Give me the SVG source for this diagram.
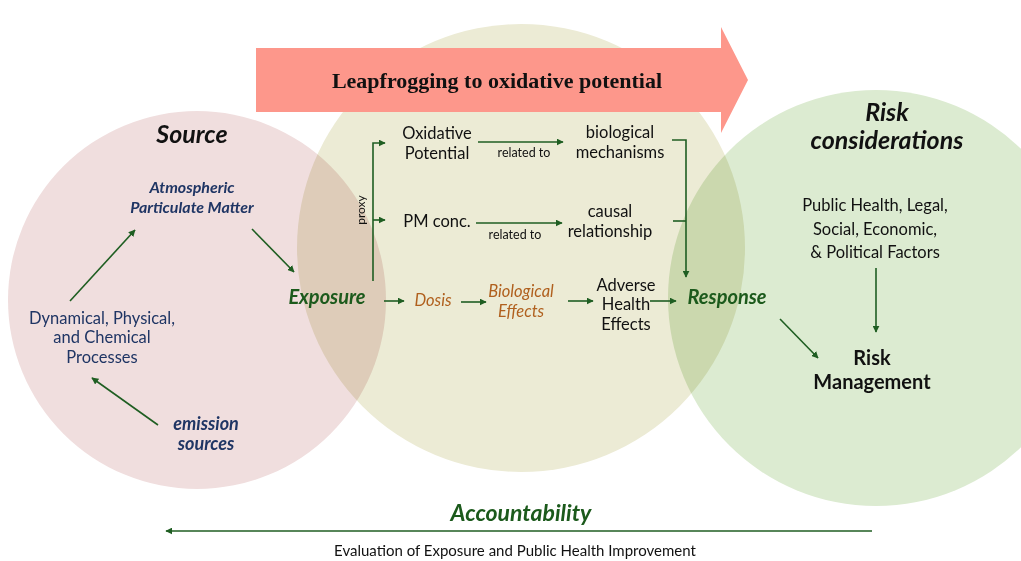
<svg xmlns="http://www.w3.org/2000/svg" width="1021" height="561" viewBox="0 0 1021 561">
<defs>
<style>
.t{font-family:Lato,"Open Sans",sans-serif;font-size:16.5px;fill:#111;text-anchor:middle;}
.nv{fill:#1f3564;}
.bi{font-weight:700;font-style:italic;}
.gr{fill:#1c5a1c;}
.or{fill:#b0601e;font-style:italic;}
.sm{font-family:Lato,"Open Sans",sans-serif;font-size:12.5px;fill:#111;text-anchor:middle;}
.ln{stroke:#1f5e22;stroke-width:1.6;fill:none;}
.c{mix-blend-mode:multiply;}
</style>
<marker id="ah" viewBox="0 0 10 10" refX="9" refY="5" markerWidth="7" markerHeight="7" markerUnits="userSpaceOnUse" orient="auto">
<path d="M0,0 L10,5 L0,10 z" fill="#1f5e22"/>
</marker>
</defs>
<rect width="1021" height="561" fill="#fff"/>
<g id="circles">
<circle class="c" cx="197" cy="300" r="189" fill="#f0dede"/>
<circle class="c" cx="521" cy="248" r="224" fill="#ecebd5"/>
<circle class="c" cx="876" cy="298" r="208" fill="#dcebd1"/>
</g>
<g id="leapfrog">
<path d="M256,48 H721 V27 L748,80 L721,133 V112 H256 Z" fill="#fd978b"/>
<text x="497" y="88" text-anchor="middle" font-family="Liberation Serif,serif" font-weight="700" font-size="22" fill="#111">Leapfrogging to oxidative potential</text>
</g>
<g id="connectors">
<line class="ln" x1="70" y1="301" x2="135" y2="230" marker-end="url(#ah)"/>
<line class="ln" x1="252" y1="229" x2="294" y2="272" marker-end="url(#ah)"/>
<line class="ln" x1="158" y1="425" x2="92" y2="378" marker-end="url(#ah)"/>
<path class="ln" d="M373,281 V143 H385" marker-end="url(#ah)"/>
<line class="ln" x1="373" y1="220" x2="385" y2="220" marker-end="url(#ah)"/>
<line class="ln" x1="478" y1="142" x2="563" y2="142" marker-end="url(#ah)"/>
<line class="ln" x1="476" y1="223" x2="562" y2="223" marker-end="url(#ah)"/>
<path class="ln" d="M672,140 H686 V277" marker-end="url(#ah)"/>
<line class="ln" x1="673" y1="221" x2="686" y2="221"/>
<line class="ln" x1="384" y1="301" x2="404" y2="301" marker-end="url(#ah)"/>
<line class="ln" x1="461" y1="302" x2="486" y2="302" marker-end="url(#ah)"/>
<line class="ln" x1="568" y1="301" x2="593" y2="301" marker-end="url(#ah)"/>
<line class="ln" x1="650" y1="301" x2="676" y2="301" marker-end="url(#ah)"/>
<line class="ln" x1="876" y1="268" x2="876" y2="332" marker-end="url(#ah)"/>
<line class="ln" x1="780" y1="319" x2="818" y2="358" marker-end="url(#ah)"/>
<line class="ln" x1="872" y1="531" x2="166" y2="531" marker-end="url(#ah)"/>
</g>
<g id="source-title"><text class="t bi" x="192" y="143" style="font-size:25px">Source</text></g>
<g id="apm"><text class="t bi nv" x="192" y="193" style="font-size:16px">Atmospheric</text><text class="t bi nv" x="192" y="213" style="font-size:16px">Particulate Matter</text></g>
<g id="processes"><text class="t nv" x="102" y="324">Dynamical, Physical,</text><text class="t nv" x="102" y="343">and Chemical</text><text class="t nv" x="102" y="363">Processes</text></g>
<g id="emission"><text class="t bi nv" x="206" y="430" style="font-size:18px">emission</text><text class="t bi nv" x="206" y="450" style="font-size:18px">sources</text></g>
<g id="exposure"><text class="t bi gr" x="327" y="304" style="font-size:20px">Exposure</text></g>
<g id="proxy"><text class="sm" transform="translate(365,210) rotate(-90)" style="font-size:12px">proxy</text></g>
<g id="op"><text class="t" x="437" y="139">Oxidative</text><text class="t" x="437" y="159">Potential</text></g>
<g id="rel1"><text class="sm" x="524" y="157">related to</text></g>
<g id="biomech"><text class="t" x="620" y="138">biological</text><text class="t" x="620" y="158">mechanisms</text></g>
<g id="pm"><text class="t" x="437" y="227">PM conc.</text></g>
<g id="rel2"><text class="sm" x="515" y="239">related to</text></g>
<g id="causal"><text class="t" x="610" y="217">causal</text><text class="t" x="610" y="237">relationship</text></g>
<g id="dosis"><text class="t or" x="433" y="306">Dosis</text></g>
<g id="bioeff"><text class="t or" x="521" y="297">Biological</text><text class="t or" x="521" y="317">Effects</text></g>
<g id="adverse"><text class="t" x="626" y="291">Adverse</text><text class="t" x="626" y="310">Health</text><text class="t" x="626" y="330">Effects</text></g>
<g id="response"><text class="t bi gr" x="727" y="304" style="font-size:20px">Response</text></g>
<g id="risk-title"><text class="t bi" x="887" y="121" style="font-size:25px">Risk</text><text class="t bi" x="887" y="149" style="font-size:25px">considerations</text></g>
<g id="factors"><text class="t" x="875" y="211">Public Health, Legal,</text><text class="t" x="875" y="235">Social, Economic,</text><text class="t" x="875" y="258">&amp; Political Factors</text></g>
<g id="riskmgmt"><text class="t" x="872" y="365" style="font-size:20px;font-weight:700">Risk</text><text class="t" x="872" y="389" style="font-size:20px;font-weight:700">Management</text></g>
<g id="accountability"><text class="t bi gr" x="521" y="521" style="font-size:23px">Accountability</text></g>
<g id="evaluation"><text class="t" x="515" y="556" style="font-size:15px">Evaluation of Exposure and Public Health Improvement</text></g>
</svg>
